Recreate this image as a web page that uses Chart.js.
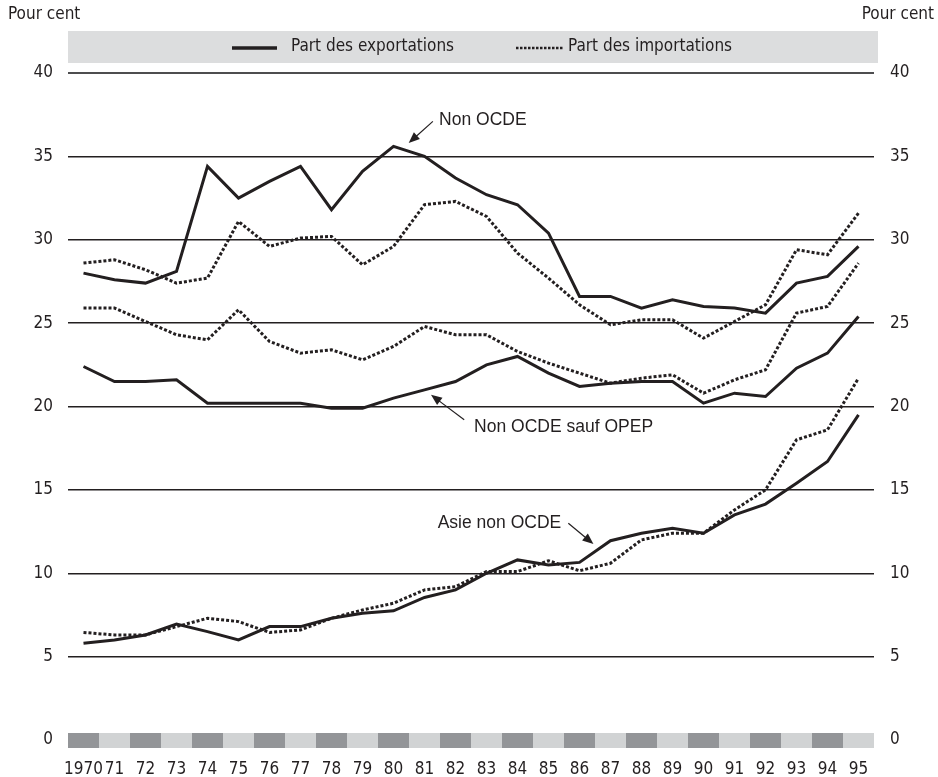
<!DOCTYPE html>
<html>
<head>
<meta charset="utf-8">
<script src="https://cdn.jsdelivr.net/npm/chart.js@4.4.1/dist/chart.umd.min.js"></script>
<style>
  html, body { margin: 0; padding: 0; background: #fff; }
  #wrap { width: 938px; height: 777px; }
</style>
</head>
<body>
<div id="wrap"><canvas id="chart" width="938" height="777"></canvas></div>
<script>
// Years on the x axis
const years = ["1970", "71", "72", "73", "74", "75", "76", "77", "78", "79", "80", "81", "82",
    "83", "84", "85", "86", "87", "88", "89", "90", "91", "92", "93", "94", "95"];

// Non OCDE
const nonOcdeExports = [28.0, 27.6, 27.4, 28.1, 34.4, 32.5, 33.5, 34.4, 31.8, 34.1, 35.6, 35.0, 33.7,
    32.7, 32.1, 30.4, 26.6, 26.6, 25.9, 26.4, 26.0, 25.9, 25.6, 27.4, 27.8, 29.6];
const nonOcdeImports = [28.6, 28.8, 28.2, 27.4, 27.7, 31.1, 29.6, 30.1, 30.2, 28.5, 29.6, 32.1, 32.3,
    31.4, 29.2, 27.7, 26.1, 24.9, 25.2, 25.2, 24.1, 25.1, 26.1, 29.4, 29.1, 31.6];

// Non OCDE sauf OPEP
const sansOpepExports = [22.4, 21.5, 21.5, 21.6, 20.2, 20.2, 20.2, 20.2, 19.9, 19.9, 20.5, 21.0, 21.5,
    22.5, 23.0, 22.0, 21.2, 21.4, 21.5, 21.5, 20.2, 20.8, 20.6, 22.3, 23.2, 25.4];
const sansOpepImports = [25.9, 25.9, 25.1, 24.3, 24.0, 25.8, 23.9, 23.2, 23.4, 22.8, 23.6, 24.8, 24.3,
    24.3, 23.3, 22.6, 22.0, 21.4, 21.7, 21.9, 20.8, 21.6, 22.2, 25.6, 26.0, 28.6];

// Asie non OCDE
const asieExports = [5.8, 6.0, 6.3, 6.95, 6.5, 6.0, 6.8, 6.8, 7.3, 7.6, 7.75, 8.55, 9.0,
    10.0, 10.8, 10.5, 10.65, 11.95, 12.4, 12.7, 12.4, 13.5, 14.15, 15.4, 16.7, 19.5];
const asieImports = [6.45, 6.3, 6.3, 6.8, 7.3, 7.1, 6.45, 6.6, 7.3, 7.8, 8.2, 9.0, 9.2,
    10.1, 10.1, 10.75, 10.15, 10.6, 12.0, 12.4, 12.4, 13.8, 15.0, 18.0, 18.6, 21.7];

// Labels placed in data coordinates: [year index, value]
const annotations = [
    { text: "Non OCDE", at: [11.47, 37.17], align: "left", from: [11.27, 37.1], to: [10.49, 35.8] },
    { text: "Non OCDE sauf OPEP", at: [12.6, 18.75], align: "left", from: [12.28, 19.2], to: [11.21, 20.7] },
    { text: "Asie non OCDE", at: [15.41, 13.0], align: "right", from: [15.64, 13.0], to: [16.45, 11.75] }
];

const ink = "#231f20";
const narrow = "'DejaVu Sans Condensed', 'Liberation Sans Narrow', sans-serif";
const plain = "'Liberation Sans', 'DejaVu Sans', sans-serif";

function solid(data) {
    return {
        data: data,
        borderColor: ink,
        borderWidth: 3,
        pointRadius: 0,
        tension: 0,
        fill: false,
        borderJoinStyle: "miter"
    };
}

function dotted(data) {
    return {
        data: data,
        borderColor: ink,
        borderWidth: 3,
        borderDash: [3, 2],
        pointRadius: 0,
        tension: 0,
        fill: false
    };
}

// Grey/dark band along the bottom of the plot
const bandPlugin = {
    id: "band",
    beforeDatasetsDraw(chart) {
        const ctx = chart.ctx;
        const x = chart.scales.x;
        const y0 = chart.scales.y.getPixelForValue(0);
        const w = x.width / years.length;
        ctx.save();
        years.forEach((_, i) => {
            const cx = x.getPixelForValue(i);
            ctx.fillStyle = i % 2 === 0 ? "#939598" : "#d1d3d4";
            ctx.fillRect(cx - w / 2, y0 - 7, w, 15);
        });
        ctx.restore();
    }
};

// Legend box, unit labels and annotations
const decorPlugin = {
    id: "decor",
    afterDraw(chart) {
        const ctx = chart.ctx;
        const x = chart.scales.x;
        const y = chart.scales.y;
        ctx.save();

        // legend band
        ctx.fillStyle = "#dcddde";
        ctx.fillRect(68, 31, 810, 32);
        ctx.strokeStyle = ink;
        ctx.lineWidth = 3.5;
        ctx.beginPath();
        ctx.moveTo(232, 48);
        ctx.lineTo(277, 48);
        ctx.stroke();
        ctx.lineWidth = 2.5;
        ctx.setLineDash([2.5, 1.5]);
        ctx.beginPath();
        ctx.moveTo(516, 48);
        ctx.lineTo(564, 48);
        ctx.stroke();
        ctx.setLineDash([]);

        ctx.fillStyle = ink;
        ctx.font = "17px " + narrow;
        ctx.textBaseline = "middle";
        ctx.textAlign = "left";
        ctx.fillText("Part des exportations", 291, 47);
        ctx.fillText("Part des importations", 568, 47);

        // unit labels
        ctx.fillText("Pour cent", 8, 15);
        ctx.textAlign = "right";
        ctx.fillText("Pour cent", 934, 15);

        // annotations with arrows
        ctx.font = "17.5px " + plain;
        annotations.forEach((a) => {
            ctx.textAlign = a.align;
            ctx.fillText(a.text, x.getPixelForValue(a.at[0]), y.getPixelForValue(a.at[1]));
            const x1 = x.getPixelForValue(a.from[0]);
            const y1 = y.getPixelForValue(a.from[1]);
            const x2 = x.getPixelForValue(a.to[0]);
            const y2 = y.getPixelForValue(a.to[1]);
            const ang = Math.atan2(y2 - y1, x2 - x1);
            ctx.lineWidth = 1.2;
            ctx.beginPath();
            ctx.moveTo(x1, y1);
            ctx.lineTo(x2 - 8 * Math.cos(ang), y2 - 8 * Math.sin(ang));
            ctx.stroke();
            ctx.beginPath();
            ctx.moveTo(x2, y2);
            ctx.lineTo(x2 - 11 * Math.cos(ang) + 4.5 * Math.sin(ang), y2 - 11 * Math.sin(ang) - 4.5 * Math.cos(ang));
            ctx.lineTo(x2 - 11 * Math.cos(ang) - 4.5 * Math.sin(ang), y2 - 11 * Math.sin(ang) + 4.5 * Math.cos(ang));
            ctx.closePath();
            ctx.fill();
        });
        ctx.restore();
    }
};

const ctx = document.getElementById("chart").getContext("2d");
new Chart(ctx, {
    type: "line",
    data: {
        labels: years,
        datasets: [
            solid(nonOcdeExports),
            dotted(nonOcdeImports),
            solid(sansOpepExports),
            dotted(sansOpepImports),
            solid(asieExports),
            dotted(asieImports)
        ]
    },
    options: {
        responsive: false,
        animation: false,
        layout: { padding: { top: 73, left: 0, right: 0, bottom: 0 } },
        plugins: {
            legend: { display: false },
            tooltip: { enabled: false }
        },
        scales: {
            x: {
                offset: true,
                grid: { display: false, drawTicks: false },
                border: { display: false },
                ticks: {
                    color: ink,
                    font: { family: narrow, size: 17 },
                    padding: 19,
                    autoSkip: false,
                    maxRotation: 0
                },
                afterFit(scale) { scale.height = 37; }
            },
            y: {
                position: "left",
                min: 0,
                max: 40,
                grid: {
                    drawTicks: false,
                    color: (c) => (c.tick.value === 0 ? "rgba(0,0,0,0)" : c.tick.value === 40 ? "#4d4d4f" : ink),
                    lineWidth: (c) => (c.tick.value === 40 ? 2 : 1.5)
                },
                border: { display: false },
                ticks: {
                    stepSize: 5,
                    color: ink,
                    padding: 15,
                    font: { family: narrow, size: 17 }
                },
                afterFit(scale) { scale.width = 68; }
            },
            y2: {
                position: "right",
                min: 0,
                max: 40,
                grid: { display: false, drawTicks: false },
                border: { display: false },
                ticks: {
                    stepSize: 5,
                    color: ink,
                    padding: 16,
                    font: { family: narrow, size: 17 }
                },
                afterFit(scale) { scale.width = 64; }
            }
        }
    },
    plugins: [bandPlugin, decorPlugin]
});
</script>
</body>
</html>
